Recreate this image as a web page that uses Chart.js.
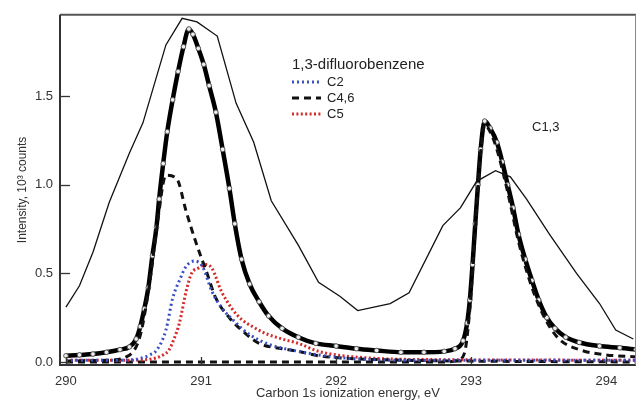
<!DOCTYPE html>
<html>
<head>
<meta charset="utf-8">
<script src="https://cdn.jsdelivr.net/npm/chart.js@4/dist/chart.umd.min.js"></script>
<style>
  html, body { margin: 0; padding: 0; background: #fff; }
  #wrap { width: 641px; height: 407px; }
</style>
</head>
<body>
<div id="wrap"><canvas id="chart" width="641" height="407"></canvas></div>
<script>
// broad thin spectrum
const broadE = [290.0, 290.1, 290.2, 290.32, 290.47, 290.57, 290.74, 290.86, 290.97, 291.12, 291.26, 291.39, 291.52, 291.72, 291.87, 292.03, 292.16, 292.4, 292.54, 292.79, 292.92, 293.04, 293.18, 293.29, 293.41, 293.58, 293.78, 293.95, 294.07, 294.2];
const broadI = [0.31, 0.43, 0.62, 0.9, 1.18, 1.35, 1.79, 1.94, 1.92, 1.84, 1.46, 1.24, 0.91, 0.66, 0.45, 0.37, 0.29, 0.33, 0.39, 0.77, 0.87, 1.02, 1.08, 1.045, 0.92, 0.72, 0.5, 0.33, 0.18, 0.13];

// measured spectrum + total fit
const totalE = [290.0, 290.1, 290.2, 290.3, 290.4, 290.47, 290.52, 290.55, 290.58, 290.61, 290.64, 290.67, 290.69, 290.72, 290.75, 290.79, 290.83, 290.87, 290.91, 290.94, 290.98, 291.02, 291.06, 291.11, 291.16, 291.21, 291.25, 291.3, 291.36, 291.43, 291.5, 291.6, 291.72, 291.85, 292.0, 292.15, 292.3, 292.48, 292.65, 292.8, 292.88, 292.94, 292.97, 292.99, 293.01, 293.03, 293.05, 293.07, 293.1, 293.14, 293.19, 293.23, 293.27, 293.31, 293.35, 293.4, 293.45, 293.5, 293.56, 293.62, 293.7, 293.8, 293.95, 294.1, 294.22];
const totalI = [0.035, 0.04, 0.045, 0.055, 0.07, 0.085, 0.13, 0.2, 0.3, 0.42, 0.6, 0.76, 0.92, 1.12, 1.3, 1.48, 1.64, 1.78, 1.88, 1.85, 1.77, 1.68, 1.56, 1.41, 1.2, 0.98, 0.78, 0.58, 0.44, 0.34, 0.26, 0.19, 0.14, 0.105, 0.09, 0.075, 0.065, 0.055, 0.055, 0.06, 0.075, 0.12, 0.22, 0.35, 0.55, 0.78, 1.0, 1.2, 1.36, 1.32, 1.24, 1.13, 1.0, 0.87, 0.72, 0.58, 0.46, 0.35, 0.25, 0.19, 0.14, 0.11, 0.09, 0.08, 0.07];

// components
const c2E = [290.0, 290.4, 290.55, 290.62, 290.67, 290.74, 290.79, 290.84, 290.89, 290.95, 291.01, 291.08, 291.15, 291.26, 291.35, 291.5, 291.72, 291.87, 292.1, 292.5, 294.22];
const c2I = [0.01, 0.01, 0.02, 0.04, 0.065, 0.18, 0.36, 0.46, 0.54, 0.57, 0.54, 0.4, 0.31, 0.22, 0.16, 0.1, 0.06, 0.04, 0.02, 0.01, 0.01];

const c46E = [290.0, 290.3, 290.45, 290.55, 290.62, 290.68, 290.74, 290.82, 290.89, 290.96, 291.04, 291.11, 291.21, 291.33, 291.43, 291.6, 291.72, 291.87, 292.1, 292.5, 293.0, 294.22];
const c46I = [0.005, 0.01, 0.03, 0.15, 0.45, 0.8, 1.055, 1.035, 0.85, 0.68, 0.51, 0.36, 0.25, 0.16, 0.105, 0.075, 0.06, 0.035, 0.02, 0.01, 0.005, 0.0];

const c5E = [290.0, 290.5, 290.65, 290.72, 290.76, 290.8, 290.84, 290.89, 290.93, 290.98, 291.04, 291.08, 291.15, 291.23, 291.3, 291.38, 291.48, 291.6, 291.72, 291.87, 292.0, 292.2, 292.5, 294.22];
const c5I = [0.01, 0.01, 0.02, 0.04, 0.065, 0.13, 0.22, 0.4, 0.5, 0.53, 0.55, 0.53, 0.4, 0.3, 0.24, 0.2, 0.16, 0.13, 0.105, 0.06, 0.04, 0.025, 0.015, 0.01];

const c13E = [290.0, 292.8, 292.9, 292.95, 292.99, 293.03, 293.07, 293.1, 293.14, 293.19, 293.27, 293.35, 293.45, 293.55, 293.65, 293.8, 294.0, 294.22];
const c13I = [0.0, 0.0, 0.01, 0.05, 0.3, 0.75, 1.18, 1.34, 1.3, 1.2, 0.96, 0.68, 0.42, 0.24, 0.13, 0.07, 0.04, 0.03];

const xTicks = [290, 291, 292, 293, 294];
const yTicks = [0, 0.5, 1.0, 1.5];

const pts = (xs, ys) => xs.map((x, i) => ({ x: x, y: ys[i] }));

const FONT = '"Liberation Sans", Arial, sans-serif';
const BLUE = '#3a4fc4';
const RED = '#d42a2a';

// frame, inner ticks, legend and peak label
const decor = {
  id: 'decor',
  afterDatasetsDraw(chart) {
    const { ctx, chartArea: a, scales: { x, y } } = chart;
    ctx.save();
    ctx.strokeStyle = '#333';
    ctx.lineWidth = 1.3;
    xTicks.forEach(v => {
      const px = Math.round(x.getPixelForValue(v)) + 0.5;
      ctx.beginPath(); ctx.moveTo(px, a.bottom); ctx.lineTo(px, a.bottom - 8); ctx.stroke();
    });
    yTicks.forEach(v => {
      const py = Math.round(y.getPixelForValue(v)) + 0.5;
      ctx.beginPath(); ctx.moveTo(a.left, py); ctx.lineTo(a.left + 10, py); ctx.stroke();
    });
    // box
    ctx.lineWidth = 2;
    ctx.strokeStyle = '#555';
    ctx.beginPath(); ctx.moveTo(a.left, a.top); ctx.lineTo(a.right, a.top); ctx.stroke();
    ctx.strokeStyle = '#333';
    ctx.beginPath(); ctx.moveTo(a.left, a.top); ctx.lineTo(a.left, a.bottom); ctx.lineTo(a.right, a.bottom); ctx.stroke();
    ctx.lineWidth = 1;
    ctx.strokeStyle = '#888';
    ctx.beginPath(); ctx.moveTo(a.right - 0.5, a.top); ctx.lineTo(a.right - 0.5, a.bottom); ctx.stroke();

    // legend
    ctx.fillStyle = '#222';
    ctx.textBaseline = 'middle';
    ctx.font = '15px ' + FONT;
    ctx.fillText('1,3-difluorobenzene', 292, 65);
    const items = [
      { label: 'C2', ds: 0, yy: 82 },
      { label: 'C4,6', ds: 1, yy: 98 },
      { label: 'C5', ds: 2, yy: 114 }
    ];
    ctx.font = '13px ' + FONT;
    items.forEach(it => {
      const d = chart.data.datasets[it.ds];
      ctx.save();
      ctx.strokeStyle = d.borderColor;
      ctx.lineWidth = d.borderWidth;
      ctx.setLineDash(d.borderDash);
      ctx.beginPath(); ctx.moveTo(292, it.yy); ctx.lineTo(321, it.yy); ctx.stroke();
      ctx.restore();
      ctx.fillText(it.label, 327, it.yy);
    });
    ctx.fillText('C1,3', 532, 127);
    ctx.restore();
  }
};

new Chart(document.getElementById('chart'), {
  type: 'line',
  data: {
    datasets: [
      { label: 'C2', data: pts(c2E, c2I), borderColor: BLUE, borderWidth: 3, borderDash: [2, 3], pointRadius: 0, cubicInterpolationMode: 'monotone', fill: false },
      { label: 'C4,6', data: pts(c46E, c46I), borderColor: '#111', borderWidth: 3, borderDash: [7, 5], pointRadius: 0, cubicInterpolationMode: 'monotone', fill: false },
      { label: 'C5', data: pts(c5E, c5I), borderColor: RED, borderWidth: 3, borderDash: [2, 2.4], pointRadius: 0, cubicInterpolationMode: 'monotone', fill: false },
      { label: 'C1,3', data: pts(c13E, c13I), borderColor: '#111', borderWidth: 3, borderDash: [7, 5], pointRadius: 0, cubicInterpolationMode: 'monotone', fill: false },
      { label: 'broad', data: pts(broadE, broadI), borderColor: '#111', borderWidth: 1.3, pointRadius: 0, tension: 0, fill: false },
      { label: 'total', data: pts(totalE, totalI), borderColor: '#000', borderWidth: 4.5, cubicInterpolationMode: 'monotone', fill: false,
        pointRadius: 2.3, pointBorderWidth: 1, pointBorderColor: '#555', pointBackgroundColor: '#eee' }
    ]
  },
  options: {
    responsive: false,
    animation: false,
    layout: { padding: { top: 11, right: 1, left: 0, bottom: 0 } },
    plugins: { legend: { display: false }, tooltip: { enabled: false } },
    scales: {
      x: {
        type: 'linear',
        min: 289.956,
        max: 294.22,
        afterFit: (s) => { s.height = 42; },
        grid: { display: false, drawTicks: false },
        border: { display: false },
        ticks: {
          stepSize: 1, includeBounds: false, padding: 9,
          color: '#333', font: { family: FONT, size: 13 },
          callback: (v) => String(v)
        },
        title: { display: true, text: 'Carbon 1s ionization energy, eV', color: '#333',
          font: { family: FONT, size: 13 }, padding: { top: 0, bottom: 6 } }
      },
      y: {
        min: -0.017,
        max: 1.96,
        afterFit: (s) => { s.width = 60; },
        grid: { display: false, drawTicks: false },
        border: { display: false },
        ticks: {
          stepSize: 0.5, includeBounds: false, padding: 7,
          color: '#333', font: { family: FONT, size: 13 },
          callback: (v) => v.toFixed(1)
        },
        title: { display: true, text: 'Intensity, 10³ counts', color: '#333',
          font: { family: FONT, size: 12 }, padding: { top: 15, bottom: 0 } }
      }
    }
  },
  plugins: [decor]
});
</script>
</body>
</html>
